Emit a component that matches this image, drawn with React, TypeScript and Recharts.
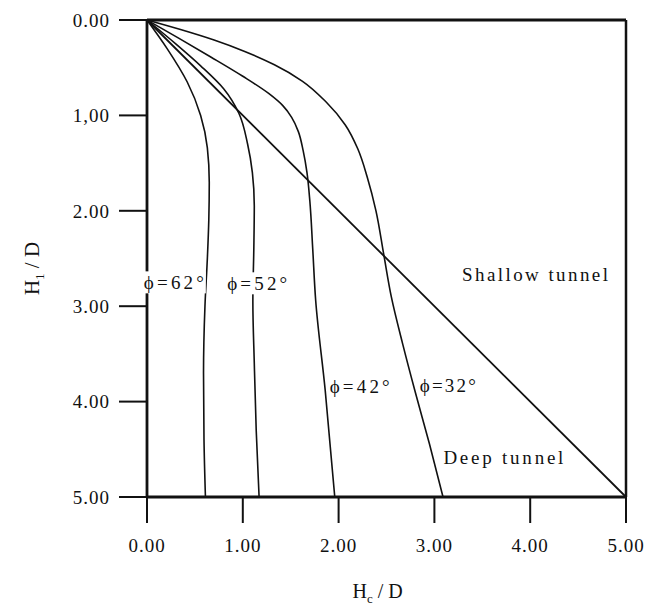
import React from 'react';
import { LineChart, Line, XAxis, YAxis, ReferenceLine, ReferenceDot } from 'recharts';

const xTicks = [0, 1, 2, 3, 4, 5];
const yTicks = [0, 1, 2, 3, 4, 5];
const xTickLabels = ['0.00', '1.00', '2.00', '3.00', '4.00', '5.00'];
const yTickLabels = ['0.00', '1,00', '2.00', '3.00', '4.00', '5.00'];

// Hc/D (x) against H1/D (y)
const phi62 = [
  { x: 0, y: 0 }, { x: 0.21, y: 0.3 }, { x: 0.42, y: 0.65 }, { x: 0.56, y: 1.0 },
  { x: 0.63, y: 1.34 }, { x: 0.65, y: 1.7 }, { x: 0.645, y: 2.1 }, { x: 0.63, y: 2.5 },
  { x: 0.605, y: 3.0 }, { x: 0.59, y: 3.7 }, { x: 0.595, y: 4.4 }, { x: 0.61, y: 5.0 },
];
const phi52 = [
  { x: 0, y: 0 }, { x: 0.3, y: 0.25 }, { x: 0.56, y: 0.48 }, { x: 0.8, y: 0.72 },
  { x: 0.96, y: 0.98 }, { x: 1.05, y: 1.3 }, { x: 1.1, y: 1.6 }, { x: 1.12, y: 1.95 },
  { x: 1.115, y: 2.4 }, { x: 1.105, y: 2.95 }, { x: 1.12, y: 3.6 }, { x: 1.14, y: 4.3 },
  { x: 1.17, y: 5.0 },
];
const phi42 = [
  { x: 0, y: 0 }, { x: 0.33, y: 0.19 }, { x: 0.67, y: 0.39 }, { x: 1.0, y: 0.59 },
  { x: 1.27, y: 0.77 }, { x: 1.42, y: 0.9 }, { x: 1.51, y: 1.02 }, { x: 1.58, y: 1.17 },
  { x: 1.63, y: 1.37 }, { x: 1.67, y: 1.6 }, { x: 1.7, y: 1.9 }, { x: 1.73, y: 2.4 },
  { x: 1.76, y: 2.93 }, { x: 1.86, y: 3.88 }, { x: 1.96, y: 5.0 },
];
const phi32 = [
  { x: 0, y: 0 }, { x: 0.35, y: 0.1 }, { x: 0.7, y: 0.21 }, { x: 1.02, y: 0.33 },
  { x: 1.33, y: 0.47 }, { x: 1.62, y: 0.64 }, { x: 1.87, y: 0.86 }, { x: 2.07, y: 1.1 },
  { x: 2.2, y: 1.35 }, { x: 2.3, y: 1.65 }, { x: 2.39, y: 2.0 }, { x: 2.47, y: 2.45 },
  { x: 2.55, y: 2.9 }, { x: 2.67, y: 3.4 }, { x: 2.8, y: 3.9 }, { x: 2.95, y: 4.45 },
  { x: 3.09, y: 5.0 },
];
const boundary = [{ x: 0, y: 0 }, { x: 5, y: 5 }];

const curveLabels = [
  { text: 'ϕ=62°', x: 0.28, y: 2.75, w: 60 },
  { text: 'ϕ=52°', x: 1.15, y: 2.76, w: 60 },
  { text: 'ϕ=42°', x: 2.22, y: 3.84, w: 60 },
  { text: 'ϕ=32°', x: 3.14, y: 3.83, w: 56 },
];
const zoneLabels = [
  { text: 'Shallow tunnel', x: 4.05, y: 2.67, w: 146 },
  { text: 'Deep tunnel', x: 3.72, y: 4.58, w: 120 },
];

const FONT = "'Times New Roman', 'Liberation Serif', Tinos, 'DejaVu Serif', serif";
const INK = '#111';

const TextTag = ({ cx, cy, text, w, box }: any) => (
  <g>
    {box && <rect x={cx - w / 2 - 2} y={cy - 11} width={w + 4} height={22} fill="#fff" />}
    <text
      x={cx - w / 2}
      y={cy}
      dy="0.35em"
      textLength={w}
      lengthAdjust="spacing"
      style={{ fontFamily: FONT }}
      fontSize={19}
      fill={INK}
    >
      {text}
    </text>
  </g>
);

const XTitle = (props: any) => {
  const vb = props.viewBox;
  return (
    <text x={vb.x + vb.width / 2 - 34} y={vb.y + 101} style={{ fontFamily: FONT }} fontSize={20} fill={INK}>
      <tspan>H</tspan>
      <tspan dy={5} fontSize={13}>c</tspan>
      <tspan dy={-5}> / D</tspan>
    </text>
  );
};

const YTitle = (props: any) => {
  const vb = props.viewBox;
  const cx = vb.x + 39;
  const cy = vb.y + vb.height / 2 + 10;
  return (
    <text
      x={cx}
      y={cy}
      transform={`rotate(-90 ${cx} ${cy})`}
      textAnchor="middle"
      style={{ fontFamily: FONT }}
      fontSize={21}
      fill={INK}
    >
      <tspan>H</tspan>
      <tspan dy={5} fontSize={13}>1</tspan>
      <tspan dy={-5}> / D</tspan>
    </text>
  );
};

const tickStyle = { fill: INK, fontSize: 19, fontFamily: FONT, letterSpacing: 1 };

export default function App() {
  return (
    <div style={{ position: 'absolute', left: 0, top: 0, background: '#fff' }}>
      <LineChart width={645} height={606} margin={{ top: 20, right: 19, bottom: 0, left: 0 }}>
        <XAxis
          type="number"
          dataKey="x"
          domain={[0, 5]}
          ticks={xTicks}
          tickFormatter={(v: number) => xTickLabels[xTicks.indexOf(v)]}
          height={109}
          tickSize={26}
          tickMargin={16}
          tick={tickStyle}
          axisLine={{ stroke: INK, strokeWidth: 2.8 }}
          tickLine={{ stroke: INK, strokeWidth: 2 }}
          label={XTitle}
        />
        <YAxis
          type="number"
          dataKey="y"
          domain={[0, 5]}
          reversed
          ticks={yTicks}
          tickFormatter={(v: number) => yTickLabels[yTicks.indexOf(v)]}
          width={147}
          tickSize={28}
          tickMargin={9}
          tick={tickStyle}
          axisLine={{ stroke: INK, strokeWidth: 2.8 }}
          tickLine={{ stroke: INK, strokeWidth: 2 }}
          label={YTitle}
        />
        <ReferenceLine y={0} stroke={INK} strokeWidth={2.8} />
        <ReferenceLine x={5} stroke={INK} strokeWidth={2.5} />
        <Line data={boundary} dataKey="y" type="linear" stroke={INK} strokeWidth={1.8} dot={false} activeDot={false} isAnimationActive={false} />
        <Line data={phi62} dataKey="y" type="monotoneY" stroke={INK} strokeWidth={1.6} dot={false} activeDot={false} isAnimationActive={false} />
        <Line data={phi52} dataKey="y" type="monotoneY" stroke={INK} strokeWidth={1.6} dot={false} activeDot={false} isAnimationActive={false} />
        <Line data={phi42} dataKey="y" type="monotoneY" stroke={INK} strokeWidth={1.6} dot={false} activeDot={false} isAnimationActive={false} />
        <Line data={phi32} dataKey="y" type="monotoneY" stroke={INK} strokeWidth={1.6} dot={false} activeDot={false} isAnimationActive={false} />
        {curveLabels.map((l) => (
          <ReferenceDot
            key={l.text}
            x={l.x}
            y={l.y}
            r={0}
            shape={(p: any) => <TextTag cx={p.cx} cy={p.cy} text={l.text} w={l.w} box />}
          />
        ))}
        {zoneLabels.map((l) => (
          <ReferenceDot
            key={l.text}
            x={l.x}
            y={l.y}
            r={0}
            shape={(p: any) => <TextTag cx={p.cx} cy={p.cy} text={l.text} w={l.w} />}
          />
        ))}
      </LineChart>
    </div>
  );
}
